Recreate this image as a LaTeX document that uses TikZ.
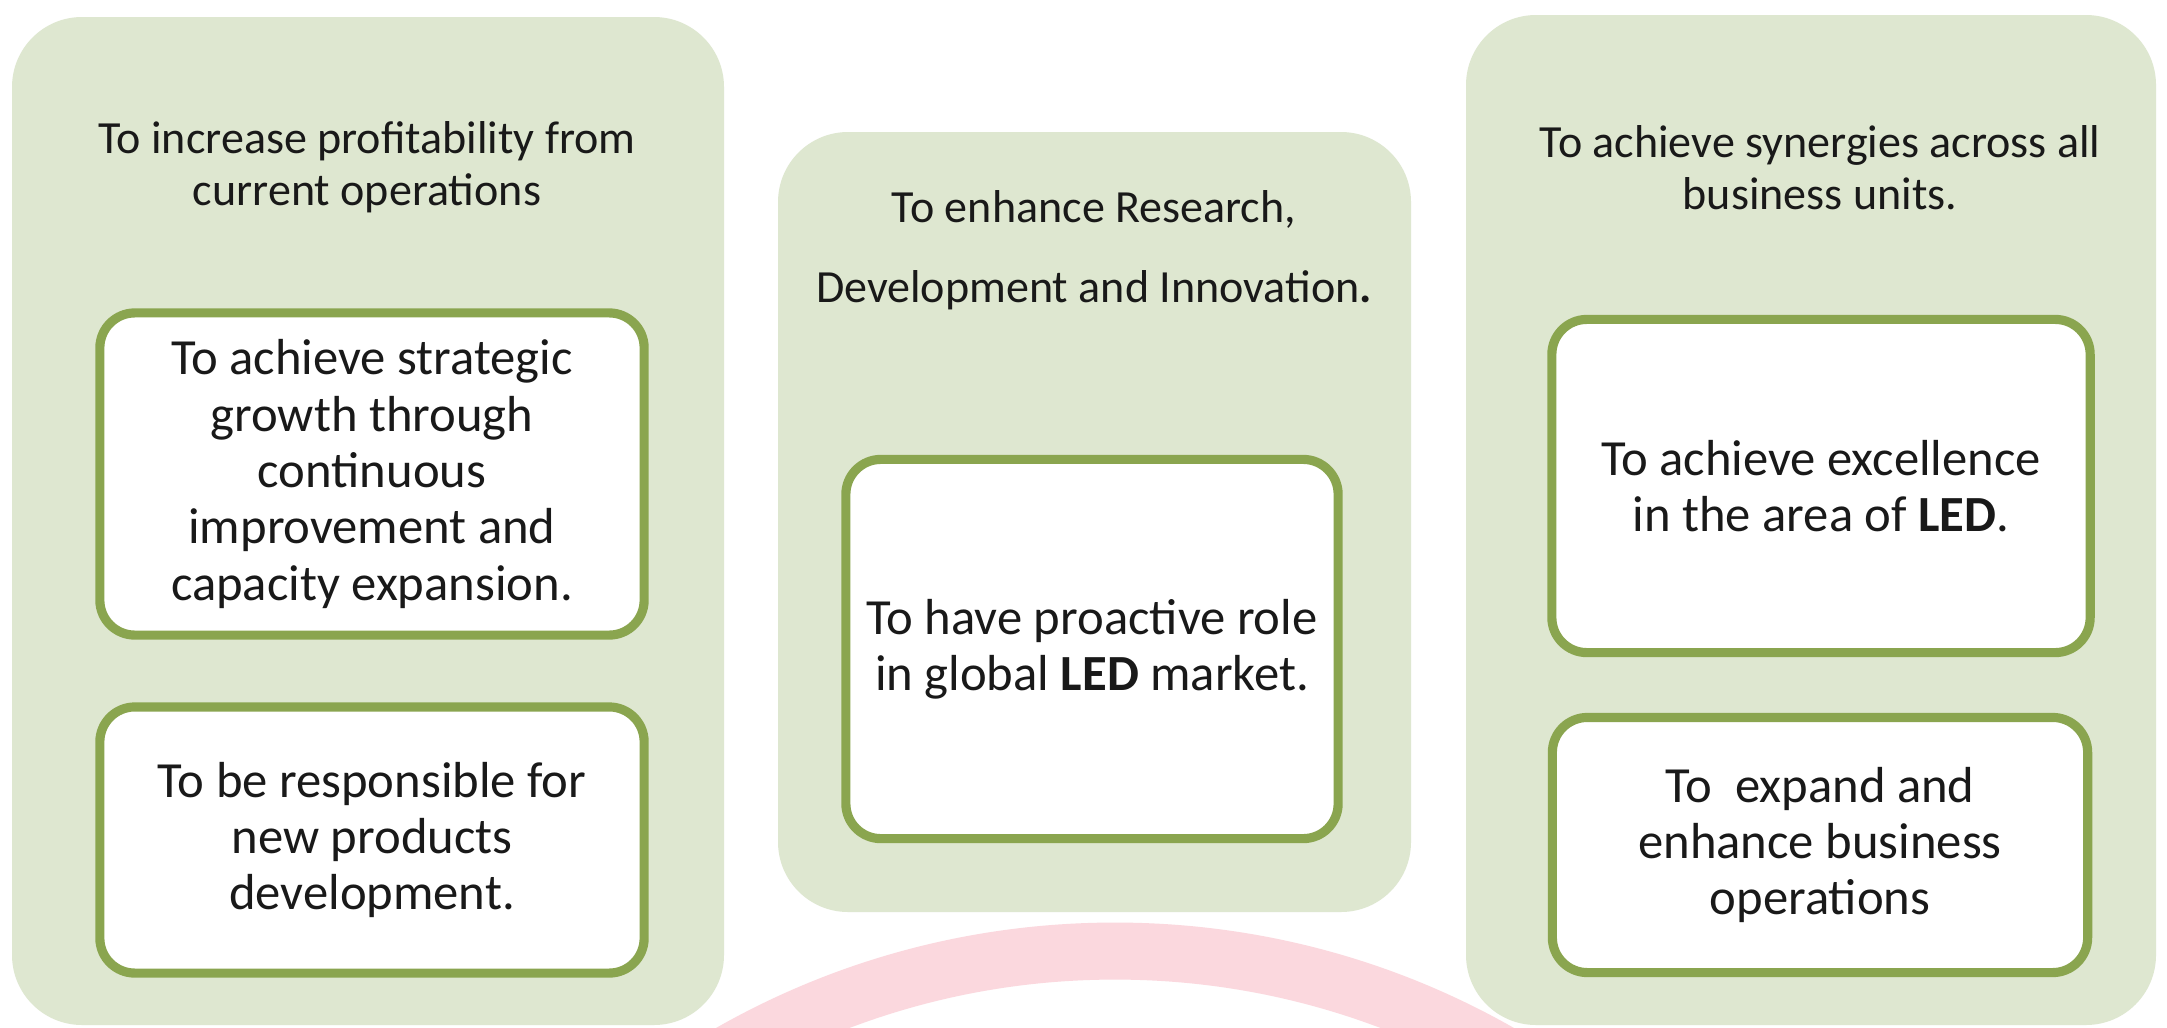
\documentclass[tikz,border=0pt]{standalone}
\usepackage{fontspec}
\setmainfont{Carlito}
\definecolor{panelfill}{HTML}{DEE7D0}
\definecolor{olive}{HTML}{8AA54F}
\definecolor{blush}{HTML}{FBD8DE}

\begin{document}
\begin{tikzpicture}[x=0.01cm,y=-0.01cm,
  panel/.style={fill=panelfill,rounded corners=0.7cm},
  aim/.style={draw=olive,line width=2.6pt,fill=white,rounded corners=0.35cm,
    align=center,inner sep=0pt,text=black!90,
    font=\fontsize{14.4}{16}\selectfont},
  head/.style={align=center,inner sep=0pt,text=black!90,
    font=\fontsize{13.1}{14.8}\selectfont}]
  \clip (0,0) rectangle (2167,1027);
  \fill[white] (0,0) rectangle (2167,1027);
  % faint arc behind the panels
  \draw[blush,line width=0.57cm] (1115,1729) circle (7.775cm);
  \fill[panel] (12,17) rectangle (724,1025);
  \fill[panel] (778,132) rectangle (1411,912);
  \fill[panel] (1466,15) rectangle (2156,1025);
  \node[head] (h1) at (367,167) {To increase profitability from\\current operations};
  \node[head,font=\fontsize{13.1}{22.7}\selectfont] (h2) at (1094,250) {To enhance Research,\\Development and Innovation\textbf{.}};
  \node[head] (h3) at (1820,168) {To achieve synergies across all\\business units.};
  \node[aim,minimum width=5.44cm,minimum height=3.22cm] (a1) at (372,474) {To achieve strategic\\growth through\\continuous\\improvement and\\capacity expansion.};
  \node[aim,minimum width=5.44cm,minimum height=2.66cm] (a2) at (372,840) {To be responsible for\\new products\\development.};
  \node[aim,minimum width=4.92cm,minimum height=3.79cm] (a3) at (1092,649) {To have proactive role\\in global \textbf{LED} market.};
  \node[aim,minimum width=5.38cm,minimum height=3.33cm] (a4) at (1821,486) {To achieve excellence\\in the area of \textbf{LED}.};
  \node[aim,minimum width=5.35cm,minimum height=2.55cm] (a5) at (1820,845) {To\ \ expand and\\enhance business\\operations};
\end{tikzpicture}
\end{document}
